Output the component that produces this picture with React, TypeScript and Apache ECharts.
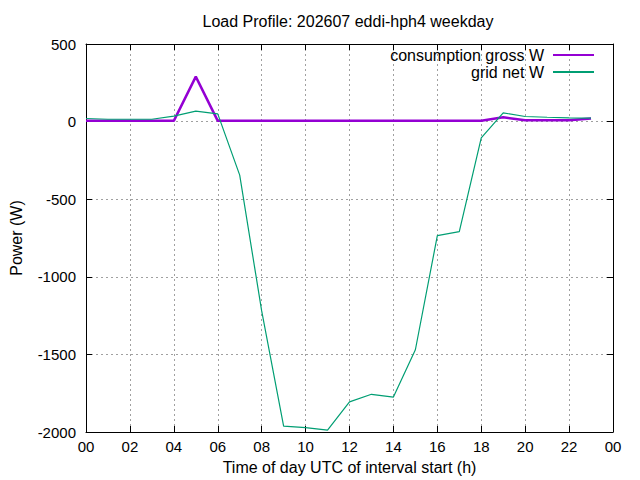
import React, { useEffect, useRef } from "react";
import * as echarts from "echarts";

const hours = [0, 1, 2, 3, 4, 5, 6, 7, 8, 9, 10, 11, 12, 13, 14, 15, 16, 17, 18, 19, 20, 21, 22, 23];
const consumptionGross = [5, 5, 5, 5, 5, 290, 5, 5, 5, 5, 5, 5, 5, 5, 5, 5, 5, 5, 5, 28, 8, 8, 8, 20];
const gridNet = [20, 15, 15, 15, 35, 68, 50, -345, -1220, -1962, -1972, -1988, -1806, -1757, -1775, -1470, -735, -709, -105, 56, 33, 28, 24, 22];
const titleText = "Load Profile: 202607 eddi-hph4 weekday";
const seriesNames = ["consumption gross W", "grid net W"];

const FONT = "Liberation Sans, Arial, sans-serif";

export default function App() {
  const ref = useRef<HTMLDivElement>(null);
  useEffect(() => {
    document.body.style.margin = "0";
    if (!ref.current) return;
    const chart = echarts.init(ref.current, null, { renderer: "svg" });
    const grid = { left: 83, right: 27, top: 44, bottom: 48 };
    const splitLine = { show: true, lineStyle: { color: "#a0a0a0", type: [2, 3] as any, width: 1 } };
    const axisLine = { show: true, onZero: false, lineStyle: { color: "#000", width: 1 } };
    const axisTick = { show: true, inside: true, length: 6, lineStyle: { color: "#000" } };
    chart.setOption({
      animation: false,
      backgroundColor: "#fff",
      textStyle: { fontFamily: FONT },
      grid,
      graphic: [
        {
          type: "text",
          x: 348,
          y: 21,
          style: {
            text: titleText,
            font: `16px ${FONT}`,
            fill: "#000",
            textAlign: "center",
            textVerticalAlign: "middle",
          },
        },
      ],
      legend: {
        orient: "vertical",
        right: 40,
        top: 42,
        align: "right",
        itemWidth: 41,
        itemHeight: 12,
        itemGap: 1,
        itemStyle: { opacity: 0 },
        textStyle: { fontSize: 16, color: "#000", fontFamily: FONT, padding: [0, 4, 0, 0] },
        data: seriesNames,
      },
      xAxis: [
        {
          type: "value",
          min: 0,
          max: 24,
          interval: 2,
          position: "bottom",
          axisLine,
          axisTick,
          splitLine,
          axisLabel: {
            color: "#000",
            fontSize: 15,
            margin: 7,
            formatter: (v: number) => String(v % 24).padStart(2, "0"),
          },
          name: "Time of day UTC of interval start (h)",
          nameLocation: "middle",
          nameGap: 27,
          nameTextStyle: { color: "#000", fontSize: 16 },
        },
        {
          type: "value",
          min: 0,
          max: 24,
          interval: 2,
          position: "top",
          axisLine,
          axisTick,
          splitLine: { show: false },
          axisLabel: { show: false },
        },
      ],
      yAxis: [
        {
          type: "value",
          min: -2000,
          max: 500,
          interval: 500,
          position: "left",
          axisLine,
          axisTick,
          splitLine,
          axisLabel: { color: "#000", fontSize: 15, margin: 10, formatter: (v: number) => String(v) },
          name: "Power (W)",
          nameLocation: "middle",
          nameRotate: 90,
          nameGap: 62,
          nameTextStyle: { color: "#000", fontSize: 16 },
        },
        {
          type: "value",
          min: -2000,
          max: 500,
          interval: 500,
          position: "right",
          axisLine,
          axisTick,
          splitLine: { show: false },
          axisLabel: { show: false },
        },
      ],
      series: [
        {
          name: seriesNames[0],
          type: "line",
          symbol: "none",
          data: hours.map((h, i) => [h, consumptionGross[i]]),
          lineStyle: { color: "#9400d3", width: 2.5 },
          itemStyle: { color: "#9400d3" },
          z: 3,
        },
        {
          name: seriesNames[1],
          type: "line",
          symbol: "none",
          data: hours.map((h, i) => [h, gridNet[i]]),
          lineStyle: { color: "#009e73", width: 1.2 },
          itemStyle: { color: "#009e73" },
          z: 4,
        },
      ],
    });
    return () => chart.dispose();
  }, []);
  return <div ref={ref} style={{ width: 640, height: 480 }} />;
}
